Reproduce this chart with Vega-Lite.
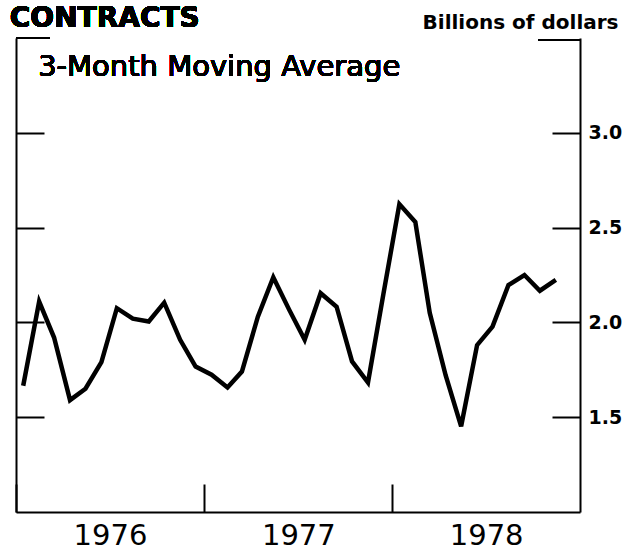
{
  "$schema": "https://vega.github.io/schema/vega-lite/v6.json",
  "width": 564,
  "height": 474,
  "autosize": "none",
  "padding": {"left": 16, "top": 38, "right": 59, "bottom": 41},
  "background": "white",
  "config": {"view": {"stroke": null}, "font": "DejaVu Sans"},
  "data": {
    "values": [
      {"date": "1976-01-15", "value": 1.666},
      {"date": "1976-02-15", "value": 2.11},
      {"date": "1976-03-15", "value": 1.92},
      {"date": "1976-04-15", "value": 1.59},
      {"date": "1976-05-15", "value": 1.65},
      {"date": "1976-06-15", "value": 1.79},
      {"date": "1976-07-15", "value": 2.075},
      {"date": "1976-08-15", "value": 2.02},
      {"date": "1976-09-15", "value": 2.005},
      {"date": "1976-10-15", "value": 2.104},
      {"date": "1976-11-15", "value": 1.908},
      {"date": "1976-12-15", "value": 1.767},
      {"date": "1977-01-15", "value": 1.724},
      {"date": "1977-02-15", "value": 1.657},
      {"date": "1977-03-15", "value": 1.741},
      {"date": "1977-04-15", "value": 2.03},
      {"date": "1977-05-15", "value": 2.238},
      {"date": "1977-06-15", "value": 2.066},
      {"date": "1977-07-15", "value": 1.908},
      {"date": "1977-08-15", "value": 2.154},
      {"date": "1977-09-15", "value": 2.083},
      {"date": "1977-10-15", "value": 1.794},
      {"date": "1977-11-15", "value": 1.683},
      {"date": "1977-12-15", "value": 2.15},
      {"date": "1978-01-15", "value": 2.624},
      {"date": "1978-02-15", "value": 2.53},
      {"date": "1978-03-15", "value": 2.05},
      {"date": "1978-04-15", "value": 1.72},
      {"date": "1978-05-15", "value": 1.452},
      {"date": "1978-06-15", "value": 1.88},
      {"date": "1978-07-15", "value": 1.978},
      {"date": "1978-08-15", "value": 2.197},
      {"date": "1978-09-15", "value": 2.25},
      {"date": "1978-10-15", "value": 2.167},
      {"date": "1978-11-15", "value": 2.224}
    ]
  },
  "layer": [
    {
      "mark": {"type": "line", "opacity": 0},
      "encoding": {
        "x": {
          "field": "date",
          "type": "temporal",
          "scale": {
            "type": "utc",
            "domain": [
              {"year": 1976, "month": 1, "date": 1, "utc": true},
              {"year": 1979, "month": 1, "date": 1, "utc": true}
            ],
            "nice": false
          },
          "axis": null
        },
        "y": {
          "field": "value",
          "type": "quantitative",
          "scale": {"domain": [1.0, 3.5], "nice": false, "zero": false},
          "axis": {
            "orient": "left",
            "values": [1.5, 2, 2.5, 3],
            "labels": false,
            "tickSize": -28,
            "tickWidth": 2,
            "tickColor": "black",
            "domainColor": "black",
            "domainWidth": 2,
            "grid": false,
            "title": null
          }
        }
      }
    },
    {
      "mark": {"type": "line", "color": "black", "strokeWidth": 4.5, "strokeJoin": "miter", "strokeCap": "butt"},
      "encoding": {
        "x": {
          "field": "date",
          "type": "temporal",
          "axis": {
            "orient": "bottom",
            "values": [
              {"year": 1976, "month": 1, "date": 1, "utc": true},
              {"year": 1977, "month": 1, "date": 1, "utc": true},
              {"year": 1978, "month": 1, "date": 1, "utc": true}
            ],
            "format": "%Y",
            "labelOffset": 94,
            "labelFlush": false,
            "labelBound": false,
            "labelOverlap": false,
            "labelAlign": "center",
            "labelFont": "DejaVu Sans",
            "labelFontSize": 29,
            "labelColor": "black",
            "labelPadding": 37,
            "tickSize": -28,
            "tickWidth": 2,
            "tickColor": "black",
            "domainColor": "black",
            "domainWidth": 2,
            "grid": false,
            "title": null
          }
        },
        "y": {
          "field": "value",
          "type": "quantitative",
          "axis": {
            "orient": "right",
            "values": [1.5, 2, 2.5, 3],
            "format": ".1f",
            "labelFont": "DejaVu Sans",
            "labelFontSize": 19,
            "labelFontWeight": "bold",
            "labelColor": "black",
            "labelPadding": 36,
            "labelBaseline": "middle",
            "tickSize": -28,
            "tickWidth": 2,
            "tickColor": "black",
            "domainColor": "black",
            "domainWidth": 2,
            "grid": false,
            "title": "Billions of dollars",
            "titleAngle": 0,
            "titleX": 38,
            "titleY": -10,
            "titleAlign": "right",
            "titleBaseline": "alphabetic",
            "titleFont": "DejaVu Sans",
            "titleFontSize": 20,
            "titleFontWeight": "bold",
            "titleColor": "black"
          }
        }
      }
    },
    {
      "mark": {"type": "rule", "color": "black", "strokeWidth": 2},
      "encoding": {
        "x": {"datum": {"year": 1976, "month": 1, "date": 1, "utc": true}, "type": "temporal", "axis": null},
        "x2": {"datum": {"year": 1976, "month": 3, "date": 6, "utc": true}},
        "y": {"datum": 3.5, "type": "quantitative", "axis": null}
      }
    },
    {
      "mark": {"type": "rule", "color": "black", "strokeWidth": 2},
      "encoding": {
        "x": {"datum": {"year": 1978, "month": 10, "date": 12, "utc": true}, "type": "temporal", "axis": null},
        "x2": {"datum": {"year": 1979, "month": 1, "date": 1, "utc": true}},
        "y": {"datum": 3.49, "type": "quantitative", "axis": null}
      }
    },
    {
      "mark": {"type": "text", "align": "left", "baseline": "alphabetic", "font": "DejaVu Sans", "fontSize": 29, "color": "black"},
      "encoding": {
        "x": {"datum": {"year": 1976, "month": 2, "date": 13, "utc": true}, "type": "temporal", "axis": null},
        "y": {"datum": 3.3, "type": "quantitative", "axis": null},
        "text": {"value": "3-Month Moving Average"}
      }
    },
    {
      "mark": {"type": "text", "align": "left", "baseline": "alphabetic", "font": "DejaVu Sans", "fontSize": 28, "fontWeight": "bold", "color": "black"},
      "encoding": {
        "x": {"datum": {"year": 1975, "month": 12, "date": 20, "utc": true}, "type": "temporal", "axis": null},
        "y": {"datum": 3.558, "type": "quantitative", "axis": null},
        "text": {"value": "CONTRACTS"}
      }
    }
  ],
  "resolve": {"axis": {"x": "independent", "y": "independent"}}
}
